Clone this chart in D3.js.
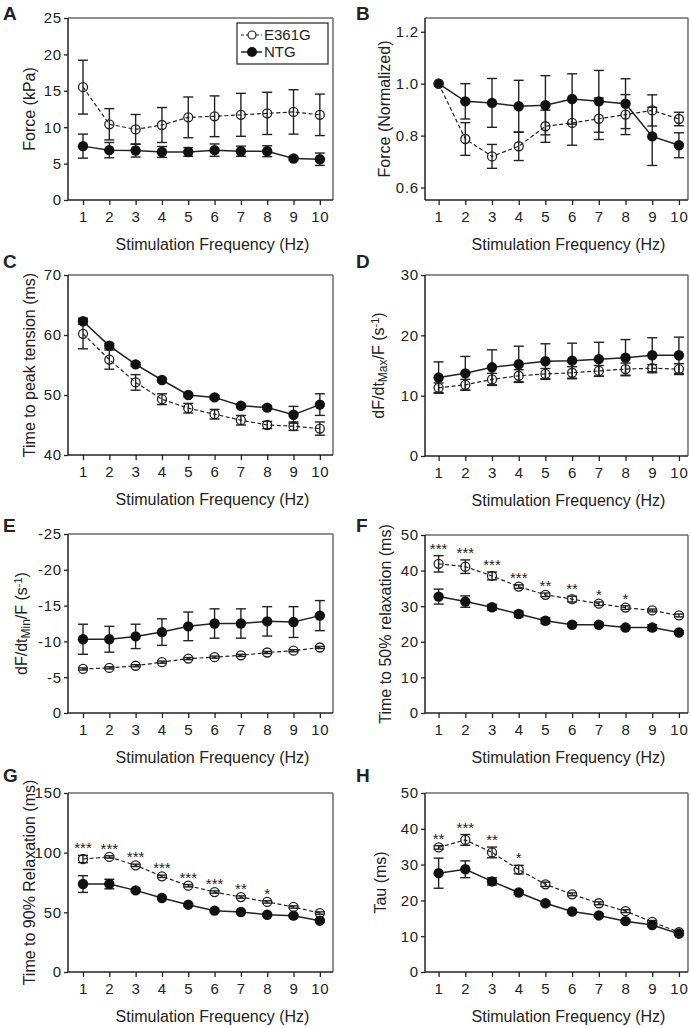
<!DOCTYPE html>
<html><head><meta charset="utf-8">
<script src="https://cdn.jsdelivr.net/npm/d3@7/dist/d3.min.js"></script>
<style>
body{margin:0;background:#fff}
text{font-family:"Liberation Sans",Arial,Helvetica,sans-serif;fill:#222}
</style>
</head><body>
<svg id="chart" width="691" height="1028"></svg>
<script>
// ---------- DATA ----------
const freq = [1,2,3,4,5,6,7,8,9,10];
const seriesNames = ["E361G","NTG"];

// A: Force (kPa)
const forceE = [15.5,10.4,9.7,10.3,11.35,11.5,11.7,11.9,12.1,11.7];
const forceEerr = [3.7,2.15,2.05,2.4,2.8,2.8,2.95,2.9,3.05,2.85];
const forceN = [7.4,6.85,6.8,6.6,6.6,6.85,6.7,6.7,5.7,5.6];
const forceNerr = [1.65,1.05,0.9,0.75,0.6,0.85,0.7,0.75,0.2,0.85];

// B: Force (normalized)
const normE = [1.0,0.787,0.72,0.759,0.836,0.849,0.865,0.881,0.897,0.864];
const normEerr = [0,0.063,0.046,0.055,0.062,0.086,0.08,0.077,0.06,0.026];
const normN = [1.0,0.932,0.926,0.913,0.917,0.941,0.932,0.923,0.797,0.763];
const normNerr = [0,0.068,0.094,0.1,0.114,0.097,0.119,0.096,0.112,0.048];

// C: Time to peak tension (ms)
const ttpE = [60.2,55.9,52.1,49.3,47.8,46.8,45.8,45.0,44.8,44.4];
const ttpEerr = [2.5,1.6,1.3,0.9,0.8,0.8,0.8,0.6,0.7,1.1];
const ttpN = [62.3,58.2,55.1,52.5,50.0,49.6,48.2,47.9,46.7,48.4];
const ttpNerr = [0.5,0.4,0.3,0.3,0.3,0.3,0.3,0.3,1.4,1.8];

// D: dF/dtMax/F (s-1)
const dmaxE = [11.3,11.8,12.7,13.3,13.6,13.8,14.1,14.4,14.55,14.4];
const dmaxEerr = [0.8,0.9,1.0,1.0,0.9,1.0,0.9,1.0,0.6,0.9];
const dmaxN = [13.0,13.7,14.7,15.2,15.7,15.8,16.05,16.3,16.7,16.7];
const dmaxNerr = [2.6,2.8,2.9,3.0,2.9,2.9,2.8,3.0,2.9,3.0];

// E: dF/dtMin/F (s-1)
const dminE = [-6.15,-6.3,-6.6,-7.1,-7.6,-7.8,-8.05,-8.45,-8.7,-9.15];
const dminEerr = [0.15,0.15,0.15,0.15,0.15,0.15,0.15,0.15,0.15,0.15];
const dminN = [-10.3,-10.3,-10.7,-11.3,-12.1,-12.5,-12.5,-12.8,-12.7,-13.6];
const dminNerr = [2.1,1.8,1.7,1.85,2.0,2.05,2.05,2.05,2.15,2.1];

// F: Time to 50% relaxation (ms)
const t50E = [41.9,41.1,38.5,35.5,33.2,32.0,30.7,29.6,28.8,27.4];
const t50Eerr = [2.3,1.9,1.1,0.5,0.5,0.8,0.5,0.5,0.4,0.4];
const t50N = [32.7,31.3,29.7,27.8,25.9,24.8,24.8,24.0,24.0,22.6];
const t50Nerr = [2.1,1.6,0.8,0.8,0.8,0.5,0.5,0.5,0.8,0.5];
const t50Stars = ["***","***","***","***","**","**","*","*","",""];

// G: Time to 90% Relaxation (ms)
const t90E = [94.7,96.4,89.4,80.2,72.3,67.0,62.8,58.7,54.5,49.4];
const t90Eerr = [3,1,1,1,1,1,1,1,1,1];
const t90N = [73.7,73.7,68.4,62.0,56.4,51.4,50.3,48.0,47.2,43.0];
const t90Nerr = [7,4,1,1,1,1,1,1,1,1];
const t90Stars = ["***","***","***","***","***","***","**","*","",""];

// H: Tau (ms)
const tauE = [34.8,36.9,33.4,28.6,24.5,21.7,19.2,17.0,14.0,11.1];
const tauEerr = [0.5,1.5,1.5,1.2,0.6,0.4,0.4,0.4,0.4,0.4];
const tauN = [27.6,28.7,25.3,22.2,19.2,16.9,15.8,14.2,13.1,10.7];
const tauNerr = [4.2,2.35,1.0,0.5,0.4,0.4,0.4,0.4,0.4,0.4];
const tauStars = ["**","***","**","*","","","","","",""];

const xTitle = "Stimulation Frequency (Hz)";

// ---------- LAYOUT ----------
const L = {x0:68, x1:333, xd:[0.43,10.5]};
const R = {x0:425, x1:688, xd:[0.49,10.34]};
const panels = [
 {letter:"A", col:L, y0:18, y1:200, yd:[0,25], yt:[0,5,10,15,20,25], fmt:d=>d, e:forceE, ee:forceEerr, n:forceN, ne:forceNerr,
  title:[["Force (kPa)"]], tx:29, lab:[3,20], legend:true},
 {letter:"B", col:R, y0:18, y1:200, yd:[0.552,1.253], yt:[0.6,0.8,1.0,1.2], fmt:d3.format(".1f"), e:normE, ee:normEerr, n:normN, ne:normNerr,
  title:[["Force (Normalized)"]], tx:384, lab:[356,20]},
 {letter:"C", col:L, y0:275, y1:455, yd:[40,70], yt:[40,50,60,70], fmt:d=>d, e:ttpE, ee:ttpEerr, n:ttpN, ne:ttpNerr,
  title:[["Time to peak tension (ms)"]], tx:29, lab:[3,268]},
 {letter:"D", col:R, y0:275, y1:456, yd:[0,30], yt:[0,10,20,30], fmt:d=>d, e:dmaxE, ee:dmaxEerr, n:dmaxN, ne:dmaxNerr,
  title:[["dF/dt"],["Max","sub"],["/F (s"],["-1","sup"],[")"]], tx:378, lab:[356,268]},
 {letter:"E", col:L, y0:534, y1:713, yd:[0,-25], yt:[0,-5,-10,-15,-20,-25], fmt:d=>String(d), e:dminE, ee:dminEerr, n:dminN, ne:dminNerr,
  title:[["dF/dt"],["Min","sub"],["/F (s"],["-1","sup"],[")"]], tx:21, lab:[3,532]},
 {letter:"F", col:R, y0:535, y1:713, yd:[0,50], yt:[0,10,20,30,40,50], fmt:d=>d, e:t50E, ee:t50Eerr, n:t50N, ne:t50Nerr, stars:t50Stars,
  title:[["Time to 50% relaxation (ms)"]], tx:385, lab:[356,532]},
 {letter:"G", col:L, y0:793, y1:972, yd:[0,150], yt:[0,50,100,150], fmt:d=>d, e:t90E, ee:t90Eerr, n:t90N, ne:t90Nerr, stars:t90Stars,
  title:[["Time to 90% Relaxation (ms)"]], tx:29, lab:[3,782]},
 {letter:"H", col:R, y0:793, y1:972, yd:[0,50], yt:[0,10,20,30,40,50], fmt:d=>d, e:tauE, ee:tauEerr, n:tauN, ne:tauNerr, stars:tauStars,
  title:[["Tau (ms)"]], tx:380, lab:[356,782]}
];

const svg = d3.select("#chart");
const DARK = "#222", FRAME = "#6a6a6a";

panels.forEach(p => {
  const x = d3.scaleLinear().domain(p.col.xd).range([p.col.x0, p.col.x1]);
  const y = d3.scaleLinear().domain(p.yd).range([p.y1, p.y0]);
  const g = svg.append("g");

  // frame
  g.append("line").attr("x1",p.col.x0).attr("x2",p.col.x1).attr("y1",p.y0).attr("y2",p.y0).attr("stroke",FRAME).attr("stroke-width",1.5);
  g.append("line").attr("x1",p.col.x1).attr("x2",p.col.x1).attr("y1",p.y0).attr("y2",p.y1).attr("stroke",FRAME).attr("stroke-width",1.5);

  // axes
  const ya = g.append("g").attr("transform",`translate(${p.col.x0},0)`)
    .call(d3.axisLeft(y).tickValues(p.yt).tickSize(4).tickPadding(2).tickFormat(p.fmt));
  const xa = g.append("g").attr("transform",`translate(0,${p.y1})`)
    .call(d3.axisBottom(x).tickValues(freq).tickSize(5).tickPadding(6).tickFormat(d=>d));
  [ya,xa].forEach(a=>{
    a.select(".domain").remove();
    a.selectAll(".tick line").attr("stroke",DARK).attr("stroke-width",1.3);
    a.selectAll(".tick text").attr("font-size",15).attr("fill",DARK).style("letter-spacing","0.8px");
  });
  g.append("line").attr("x1",p.col.x0).attr("x2",p.col.x0).attr("y1",p.y0).attr("y2",p.y1).attr("stroke",DARK).attr("stroke-width",1.5);
  g.append("line").attr("x1",p.col.x0).attr("x2",p.col.x1).attr("y1",p.y1).attr("y2",p.y1).attr("stroke",DARK).attr("stroke-width",1.5);

  // x title
  g.append("text").attr("x",(p.col.x0+p.col.x1)/2 + 12).attr("y",p.y1+50).attr("text-anchor","middle")
    .attr("font-size",16).text(xTitle);

  // y title
  const yt = g.append("text").attr("transform",`translate(${p.tx},${(p.y0+p.y1)/2}) rotate(-90)`)
    .attr("text-anchor","middle").attr("dy","0.36em").attr("font-size",16);
  p.title.forEach(([t,kind])=>{
    const ts = yt.append("tspan").text(t);
    if(kind==="sub") ts.attr("font-size",12).attr("baseline-shift","-25%");
    if(kind==="sup") ts.attr("font-size",11).attr("baseline-shift","45%");
  });

  // panel letter
  g.append("text").attr("x",p.lab[0]).attr("y",p.lab[1]).attr("font-size",19).attr("font-weight","bold")
    .attr("fill","#111").text(p.letter);

  const line = d3.line().x((d,i)=>x(freq[i])).y(d=>y(d));
  // connecting lines
  g.append("path").datum(p.e).attr("d",line).attr("fill","none").attr("stroke",DARK).attr("stroke-width",1.2).attr("stroke-dasharray","4,2.5");
  g.append("path").datum(p.n).attr("d",line).attr("fill","none").attr("stroke",DARK).attr("stroke-width",1.5);

  // error bars
  const drawErr = (vals, errs) => {
    vals.forEach((v,i)=>{
      const e = errs[i]; if(!e) return;
      const cx = x(freq[i]), yt = y(v+e), yb = y(v-e);
      g.append("line").attr("x1",cx).attr("x2",cx).attr("y1",yt).attr("y2",yb).attr("stroke",DARK).attr("stroke-width",1.4);
      [yt,yb].forEach(yy=>g.append("line").attr("x1",cx-5).attr("x2",cx+5).attr("y1",yy).attr("y2",yy).attr("stroke",DARK).attr("stroke-width",1.4));
    });
  };
  drawErr(p.e, p.ee);
  drawErr(p.n, p.ne);

  // markers
  g.selectAll(null).data(p.n).enter().append("circle").attr("cx",(d,i)=>x(freq[i])).attr("cy",d=>y(d)).attr("r",5.2).attr("fill","#111");
  g.selectAll(null).data(p.e).enter().append("circle").attr("cx",(d,i)=>x(freq[i])).attr("cy",d=>y(d)).attr("r",4.5)
    .attr("fill","none").attr("stroke",DARK).attr("stroke-width",1.3);

  // significance stars
  if(p.stars){
    p.stars.forEach((s,i)=>{
      if(!s) return;
      const top = p.e[i] + p.ee[i];
      g.append("text").attr("x",x(freq[i])).attr("y",y(top)-2).attr("text-anchor","middle").attr("font-size",15)
        .attr("fill","#222").text(s);
    });
  }

  // legend
  if(p.legend){
    const lg = g.append("g");
    lg.append("rect").attr("x",237).attr("y",23).attr("width",91).attr("height",41).attr("fill","white").attr("stroke",DARK).attr("stroke-width",1.2);
    seriesNames.forEach((nm,k)=>{
      const yy = 35 + k*17;
      lg.append("line").attr("x1",241).attr("x2",262).attr("y1",yy).attr("y2",yy).attr("stroke",DARK)
        .attr("stroke-width",k?1.5:1.2).attr("stroke-dasharray",k?null:"3,2");
      if(k) lg.append("circle").attr("cx",252).attr("cy",yy).attr("r",5).attr("fill","#111");
      else lg.append("circle").attr("cx",252).attr("cy",yy).attr("r",4).attr("fill","white").attr("stroke",DARK).attr("stroke-width",1.2);
      lg.append("text").attr("x",264).attr("y",yy).attr("dy","0.36em").attr("font-size",15).text(nm);
    });
  }
});
</script>
</body></html>
